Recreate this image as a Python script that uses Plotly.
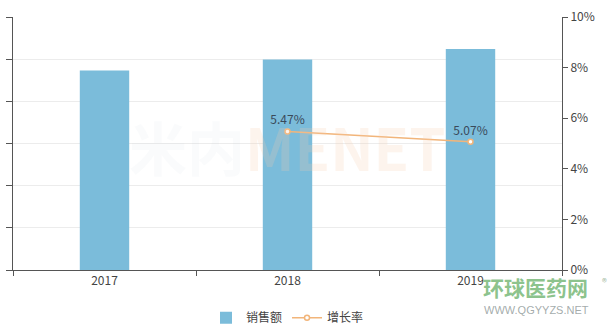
import plotly.graph_objects as go

years = ["2017", "2018", "2019"]
sales = [473, 499, 524]
growth_years = ["2018", "2019"]
growth = [5.47, 5.07]
growth_labels = ["5.47%", "5.07%"]
right_ticks = [0, 2, 4, 6, 8, 10]
right_tick_labels = ["0%", "2%", "4%", "6%", "8%", "10%"]

font = "Microsoft YaHei, Noto Sans CJK SC, Open Sans, sans-serif"
fig = go.Figure()
fig.add_trace(go.Bar(
    x=years, y=sales, name="销售额", marker=dict(color="#7bbcda", line=dict(width=0)),
    width=0.27, yaxis="y",
))
fig.add_trace(go.Scatter(
    x=growth_years, y=growth, name="增长率", yaxis="y2", mode="lines+markers+text",
    line=dict(color="#f2b57a", width=1.5),
    marker=dict(symbol="circle", size=5, color="#ffffff", line=dict(color="#f2b57a", width=1.5)),
    text=growth_labels, textposition="top center",
    textfont=dict(color="#3a4a5a", size=12, family=font),
    cliponaxis=False,
))

# watermarks
fig.add_annotation(x=0.5, y=0.49, xref="paper", yref="paper",
                   text="<b><span style='color:rgba(190,205,220,0.35)'>米内</span>MENET</b>",
                   showarrow=False, font=dict(size=58, color="rgba(248,205,175,0.22)", family=font))
fig.add_annotation(x=0.852, y=-0.068, xref="paper", yref="paper", text="<b>环球医药网</b>",
                   xanchor="left", yanchor="middle", showarrow=False,
                   font=dict(size=21, color="rgba(120,185,120,0.85)", family=font))
fig.add_annotation(x=0.855, y=-0.158, xref="paper", yref="paper", text="WWW.QGYYZS.NET",
                   xanchor="left", yanchor="middle", showarrow=False,
                   font=dict(size=11, color="rgba(140,150,150,0.8)", family="Liberation Sans, Arial"))
fig.add_annotation(x=1.077, y=-0.047, xref="paper", yref="paper", text="®",
                   xanchor="center", yanchor="middle", showarrow=False,
                   font=dict(size=10, color="rgba(140,170,140,0.8)", family=font))

fig.update_layout(
    width=615, height=331,
    margin=dict(l=7, r=53, t=14, b=61),
    plot_bgcolor="white", paper_bgcolor="white",
    font=dict(family=font, color="#444", size=12),
    showlegend=True,
    legend=dict(orientation="h", x=0.5, xanchor="center", y=0.04, yanchor="middle",
                yref="container", font=dict(size=12, color="#444"), itemwidth=30),
    xaxis=dict(type="category", showline=True, linecolor="#555", linewidth=1,
               ticks="outside", tickson="boundaries", ticklen=5, tickcolor="#555",
               tickfont=dict(size=12, color="#444"), showgrid=False, mirror=False),
    yaxis=dict(range=[0, 600], dtick=100, showline=True, linecolor="#555", linewidth=1,
               ticks="outside", ticklen=6, tickcolor="#555", showticklabels=False,
               showgrid=True, gridcolor="#ececec", gridwidth=1, zeroline=False),
    yaxis2=dict(range=[0, 10], overlaying="y", side="right", tickvals=right_ticks,
                ticktext=right_tick_labels, showline=True, linecolor="#555", linewidth=1,
                ticks="outside", ticklen=5, tickcolor="#555", showgrid=False, zeroline=False,
                tickfont=dict(size=12, color="#444")),
)
fig.write_html("out.html")
